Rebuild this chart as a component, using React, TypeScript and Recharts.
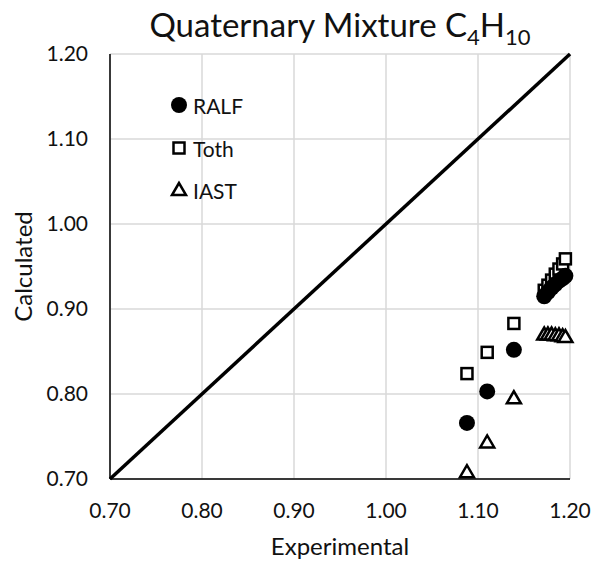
import {
  CartesianGrid,
  ReferenceLine,
  Scatter,
  ScatterChart,
  XAxis,
  YAxis,
} from "recharts";

// values
const EXPERIMENTAL = [1.088, 1.11, 1.139, 1.172, 1.176, 1.18, 1.184, 1.188, 1.192, 1.195];
const RALF = [0.766, 0.803, 0.852, 0.915, 0.92, 0.925, 0.929, 0.933, 0.936, 0.939];
const TOTH = [0.824, 0.849, 0.883, 0.922, 0.928, 0.934, 0.941, 0.947, 0.953, 0.959];
const IAST = [0.708, 0.743, 0.795, 0.87, 0.87, 0.87, 0.869, 0.869, 0.868, 0.867];
const AXIS_TICKS = [0.7, 0.8, 0.9, 1.0, 1.1, 1.2];
const PARITY = [0.7, 1.2];

const FONT = "Lato, 'Open Sans', sans-serif";
const TEXT = "#111";

const toPoints = (ys: number[]) => EXPERIMENTAL.map((x, i) => ({ x, y: ys[i] }));

function Dot({ cx, cy }: { cx?: number; cy?: number }) {
  return <circle cx={cx} cy={cy} r={8} fill="#000" />;
}

function Square({ cx = 0, cy = 0 }: { cx?: number; cy?: number }) {
  return (
    <rect x={cx - 5.5} y={cy - 5.5} width={11} height={11} fill="#fff" stroke="#000" strokeWidth={2.5} />
  );
}

function Triangle({ cx = 0, cy = 0 }: { cx?: number; cy?: number }) {
  return (
    <polygon
      points={`${cx},${cy - 7} ${cx - 7},${cy + 5} ${cx + 7},${cy + 5}`}
      fill="#fff"
      stroke="#000"
      strokeWidth={2.5}
      strokeLinejoin="miter"
    />
  );
}

const LEGEND = [
  { name: "RALF", Shape: Dot, top: 105 },
  { name: "Toth", Shape: Square, top: 148 },
  { name: "IAST", Shape: Triangle, top: 190 },
];

export default function App() {
  const tick = { fill: TEXT, fontSize: 21, fontFamily: FONT };
  return (
    <div
      style={{
        position: "absolute",
        left: 0,
        top: 0,
        width: 601,
        height: 562,
        background: "#fff",
        fontFamily: FONT,
      }}
    >
      <div
        style={{
          position: "absolute",
          left: 110,
          width: 460,
          top: 4,
          textAlign: "center",
          fontSize: 33,
          color: TEXT,
          lineHeight: "40px",
        }}
      >
        Quaternary Mixture C<sub style={{ fontSize: 22 }}>4</sub>H
        <sub style={{ fontSize: 22 }}>10</sub>
      </div>
      <ScatterChart width={601} height={562} margin={{ top: 54, right: 31, bottom: 0, left: 0 }}>
        <CartesianGrid stroke="#d9d9d9" strokeWidth={1.5} />
        <XAxis
          type="number"
          dataKey="x"
          domain={[0.7, 1.2]}
          ticks={AXIS_TICKS}
          tickFormatter={(v: number) => v.toFixed(2)}
          tick={tick}
          tickLine={false}
          tickSize={0}
          tickMargin={24}
          height={83}
          axisLine={{ stroke: "#000", strokeWidth: 1.5 }}
          label={{
            value: "Experimental",
            position: "insideBottom",
            offset: 7,
            fill: TEXT,
            fontSize: 24,
            fontFamily: FONT,
          }}
        />
        <YAxis
          type="number"
          dataKey="y"
          domain={[0.7, 1.2]}
          ticks={AXIS_TICKS}
          tickFormatter={(v: number) => v.toFixed(2)}
          tick={tick}
          tickLine={false}
          tickSize={0}
          tickMargin={22}
          width={110}
          axisLine={{ stroke: "#000", strokeWidth: 1.5 }}
          label={{
            content: (props: any) => {
              const vb = props.viewBox || {};
              const x = (vb.x ?? 0) + 22;
              const y = (vb.y ?? 0) + (vb.height ?? 0) / 2;
              return (
                <text
                  x={x}
                  y={y}
                  transform={`rotate(-90, ${x}, ${y})`}
                  textAnchor="middle"
                  dominantBaseline="central"
                  fill={TEXT}
                  fontSize={24}
                  fontFamily={FONT}
                >
                  Calculated
                </text>
              );
            },
          }}
        />
        <ReferenceLine
          segment={[
            { x: PARITY[0], y: PARITY[0] },
            { x: PARITY[1], y: PARITY[1] },
          ]}
          stroke="#000"
          strokeWidth={3.5}
          ifOverflow="visible"
        />
        <Scatter name="Toth" data={toPoints(TOTH)} shape={Square} isAnimationActive={false} />
        <Scatter name="RALF" data={toPoints(RALF)} shape={Dot} isAnimationActive={false} />
        <Scatter name="IAST" data={toPoints(IAST)} shape={Triangle} isAnimationActive={false} />
      </ScatterChart>
      {LEGEND.map(({ name, Shape, top }) => (
        <div key={name} style={{ position: "absolute", left: 169, top: top - 12, height: 24, display: "flex", alignItems: "center" }}>
          <svg width={20} height={24}>
            <Shape cx={10} cy={12} />
          </svg>
          <span style={{ marginLeft: 4, fontSize: 21, color: TEXT }}>{name}</span>
        </div>
      ))}
    </div>
  );
}
